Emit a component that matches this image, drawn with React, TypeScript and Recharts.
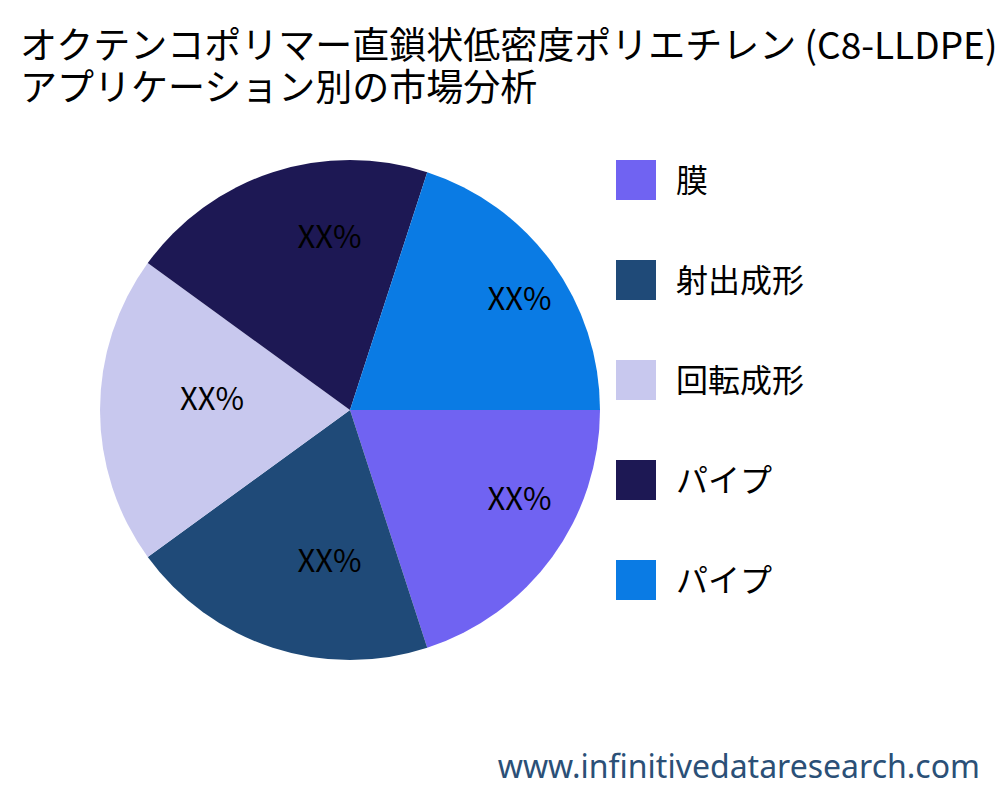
import { PieChart, Pie, Cell } from 'recharts';

const categories = ['膜', '射出成形', '回転成形', 'パイプ', 'パイプ'];
const shares = [20, 20, 20, 20, 20];
const colors = ['#7063F2', '#1F4A78', '#C8C8EE', '#1D1854', '#0A7BE4'];
const sliceLabels = ['XX%', 'XX%', 'XX%', 'XX%', 'XX%'];
const titleLines = ['オクテンコポリマー直鎖状低密度ポリエチレン (C8-LLDPE)', 'アプリケーション別の市場分析'];

const data = categories.map((name, i) => ({ name, value: shares[i], label: sliceLabels[i] }));

const FONT = '"Noto Sans CJK JP", "Noto Sans", sans-serif';
const RAD = Math.PI / 180;

// text starts at the point (left-aligned), baseline on it
const renderLabel = (props: any) => {
  const { cx, cy, midAngle, outerRadius, index } = props;
  const r = outerRadius * 0.68;
  const x = cx + r * Math.cos(-midAngle * RAD);
  const y = cy + r * Math.sin(-midAngle * RAD);
  return (
    <text x={x} y={y} fill="#000" textAnchor="start" fontSize={31} fontFamily={FONT}>
      {data[index].label}
    </text>
  );
};

export default function App() {
  return (
    <div
      style={{
        position: 'absolute',
        left: 0,
        top: 0,
        width: 1000,
        height: 800,
        background: '#fff',
        fontFamily: FONT,
      }}
    >
      {titleLines.map((line, i) => (
        <div
          key={`title-${i}`}
          style={{
            position: 'absolute',
            left: 20,
            top: 22 + i * 42,
            fontSize: 37,
            lineHeight: '42px',
            color: '#000',
            whiteSpace: 'nowrap',
          }}
        >
          {line}
        </div>
      ))}

      <div style={{ position: 'absolute', left: 0, top: 0 }}>
        <PieChart width={1000} height={800} margin={{ top: 0, right: 0, bottom: 0, left: 0 }}>
          <Pie
            data={data}
            dataKey="value"
            cx={350}
            cy={410}
            outerRadius={250}
            startAngle={0}
            endAngle={-360}
            stroke="none"
            label={renderLabel}
            labelLine={false}
            isAnimationActive={false}
          >
            {data.map((entry, index) => (
              <Cell key={`cell-${index}`} fill={colors[index]} />
            ))}
          </Pie>
        </PieChart>
      </div>

      {categories.map((name, i) => (
        <div
          key={`leg-${i}`}
          style={{
            position: 'absolute',
            left: 616,
            top: 160 + i * 100,
            height: 40,
            display: 'flex',
            alignItems: 'center',
          }}
        >
          <div style={{ width: 40, height: 40, background: colors[i] }} />
          <span
            style={{
              marginLeft: 20,
              marginTop: -4,
              fontSize: 32,
              color: '#000',
              whiteSpace: 'nowrap',
            }}
          >
            {name}
          </span>
        </div>
      ))}

      <div
        style={{
          position: 'absolute',
          right: 20,
          top: 746,
          fontSize: 32,
          lineHeight: '40px',
          color: '#2B5077',
          fontFamily: '"Noto Sans", sans-serif',
          whiteSpace: 'nowrap',
        }}
      >
        www.infinitivedataresearch.com
      </div>
    </div>
  );
}
